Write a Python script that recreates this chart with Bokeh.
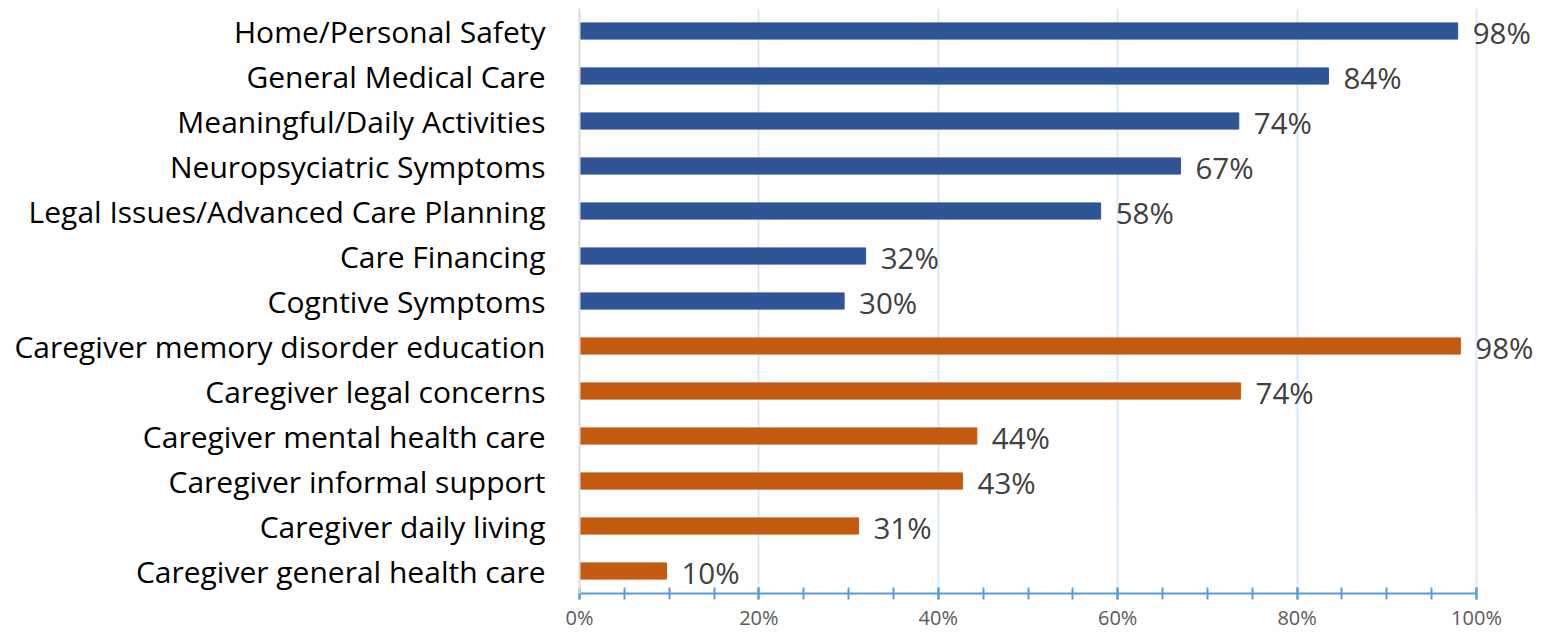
from bokeh.plotting import figure
from bokeh.models import ColumnDataSource, FixedTicker, FactorRange, Range1d, CustomJSTickFormatter, LabelSet
from bokeh.core.properties import value
from bokeh.embed import file_html
from bokeh.resources import INLINE

categories = [
    "Home/Personal Safety",
    "General Medical Care",
    "Meaningful/Daily Activities",
    "Neuropsyciatric Symptoms",
    "Legal Issues/Advanced Care Planning",
    "Care Financing",
    "Cogntive Symptoms",
    "Caregiver memory disorder education",
    "Caregiver legal concerns",
    "Caregiver mental health care",
    "Caregiver informal support",
    "Caregiver daily living",
    "Caregiver general health care",
]
values = [97.9, 83.5, 73.5, 67.0, 58.1, 31.9, 29.5, 98.2, 73.7, 44.3, 42.7, 31.1, 9.7]
labels = ["98%", "84%", "74%", "67%", "58%", "32%", "30%", "98%", "74%", "44%", "43%", "31%", "10%"]
groups = ["patient"] * 7 + ["caregiver"] * 6
group_colors = {"patient": "#2f5597", "caregiver": "#c55a11"}
x_ticks = [0, 20, 40, 60, 80, 100]
x_minor = list(range(0, 101, 5))

colors = [group_colors[g] for g in groups]
src = ColumnDataSource(dict(cat=categories, val=values, lab=labels, color=colors))

p = figure(
    width=1550, height=633,
    y_range=FactorRange(factors=list(reversed(categories)), range_padding=0),
    x_range=Range1d(0, (1550 - 579) / 897 * 100),
    output_backend="svg", toolbar_location=None,
    min_border_left=579, min_border_right=0, min_border_top=8, min_border_bottom=30,
)
p.outline_line_color = None
p.background_fill_color = "white"

p.hbar(y="cat", right="val", left=0, height=0.36, color="color", source=src)

lbls = LabelSet(x="val", y="cat", text="lab", source=src, x_offset=15, y_offset=-1,
                text_baseline="middle", text_align="left",
                text_font=value("Open Sans"), text_font_size="29.5px", text_color="#404040")
p.add_layout(lbls)

# x axis
xa = p.xaxis[0]
xa.ticker = FixedTicker(ticks=x_ticks, minor_ticks=x_minor)
xa.formatter = CustomJSTickFormatter(code="return tick + '%';")
xa.bounds = (0, 100)
xa.axis_line_color = "#5b9bd5"
xa.axis_line_width = 2
xa.major_tick_line_color = "#5b9bd5"
xa.minor_tick_line_color = "#5b9bd5"
xa.major_tick_line_width = 2
xa.minor_tick_line_width = 2
xa.major_tick_in = 6
xa.major_tick_out = 6
xa.minor_tick_in = 6
xa.minor_tick_out = 6
xa.major_label_text_font = "Open Sans"
xa.major_label_text_font_size = "20px"
xa.major_label_text_color = "#595959"
xa.major_label_standoff = 4

# y axis
ya = p.yaxis[0]
ya.axis_line_color = "#d9d9d9"
ya.axis_line_width = 2
ya.major_tick_line_color = None
ya.minor_tick_line_color = None
ya.major_label_text_font = "Open Sans"
ya.major_label_text_font_size = "30px"
ya.major_label_text_color = "#000000"
ya.major_label_standoff = 28

p.xgrid.ticker = FixedTicker(ticks=x_ticks)
p.xgrid.bounds = (0, 100)
p.xgrid.grid_line_color = "#dbe8f5"
p.xgrid.grid_line_width = 2
p.ygrid.grid_line_color = None

open("out.html", "w").write(file_html(p, INLINE))
